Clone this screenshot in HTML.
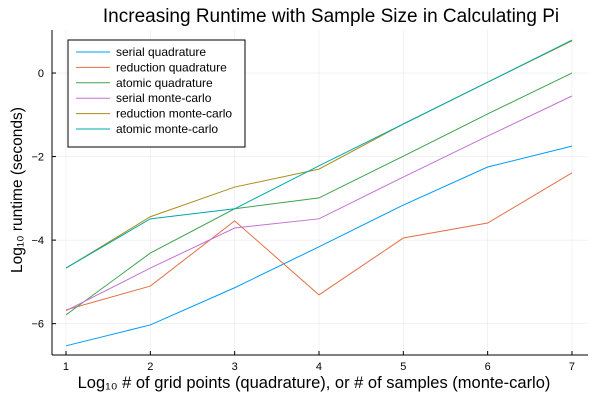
<!DOCTYPE html>
<html><head><meta charset="utf-8"><style>
body{margin:0;background:#fff;}
svg{display:block;font-family:"Liberation Sans","DejaVu Sans",sans-serif;}
</style></head><body>
<svg id="chart" width="600" height="400"></svg>
<script>
const categories=[1,2,3,4,5,6,7];
const seriesNames=["serial quadrature","reduction quadrature","atomic quadrature","serial monte-carlo","reduction monte-carlo","atomic monte-carlo"];
const serialQuad=[-6.53,-6.03,-5.14,-4.16,-3.16,-2.25,-1.75];
const reductionQuad=[-5.67,-5.1,-3.54,-5.31,-3.95,-3.59,-2.39];
const atomicQuad=[-5.79,-4.31,-3.25,-2.99,-1.99,-0.98,0.0];
const serialMC=[-5.69,-4.67,-3.71,-3.49,-2.49,-1.51,-0.55];
const reductionMC=[-4.67,-3.44,-2.73,-2.3,-1.22,-0.22,0.77];
const atomicMC=[-4.67,-3.49,-3.25,-2.22,-1.22,-0.22,0.79];
const xTicks=[1,2,3,4,5,6,7];
const yTicks=[-6,-4,-2,0];
const colors=["#009af9","#e26f46","#3da44d","#c271d2","#ac8d18","#00a9ad"];
const allSeries=[serialQuad,reductionQuad,atomicQuad,serialMC,reductionMC,atomicMC];

const L=52,R=588,T=30,B=355;
const xMin=0.834,xMax=7.19,yMin=-6.75,yMax=1.03;
const sx=v=>L+(v-xMin)/(xMax-xMin)*(R-L);
const sy=v=>B-(v-yMin)/(yMax-yMin)*(B-T);
const svg=document.getElementById('chart');
const NS="http://www.w3.org/2000/svg";
function mk(tag,attrs,parent){const e=document.createElementNS(NS,tag);for(const k in attrs)e.setAttribute(k,attrs[k]);(parent||svg).appendChild(e);return e;}

xTicks.forEach(t=>{const g=mk('line',{x1:sx(t),x2:sx(t),y1:T,y2:B,stroke:'#000','stroke-opacity':0.1,'stroke-width':0.5});

});
yTicks.forEach(t=>{const g=mk('line',{x1:L,x2:R,y1:sy(t),y2:sy(t),stroke:'#000','stroke-opacity':0.1,'stroke-width':0.5});

});
const ax=mk('line',{x1:L,x2:R,y1:B,y2:B,stroke:'#000','stroke-width':1});


const ay=mk('line',{x1:L,x2:L,y1:T,y2:B,stroke:'#000','stroke-width':1});


xTicks.forEach(t=>{
  mk('line',{x1:sx(t),x2:sx(t),y1:B,y2:B-4,stroke:'#000','stroke-width':1});
  const tx=mk('text',{x:sx(t),y:B+15,'text-anchor':'middle','font-size':11});tx.textContent=t;
  
  
});
yTicks.forEach(t=>{
  mk('line',{x1:L,x2:L+4,y1:sy(t),y2:sy(t),stroke:'#000','stroke-width':1});
  const tx=mk('text',{x:L-8,y:sy(t)+4,'text-anchor':'end','font-size':11});tx.textContent=t<0?'\u2212'+(-t):t;
  
  
});
allSeries.forEach((s,i)=>{
  const p=mk('polyline',{points:s.map((v,j)=>sx(categories[j])+','+sy(v)).join(' '),fill:'none',stroke:colors[i],'stroke-width':1});
  
  
});
const ti=mk('text',{x:331,y:22,'text-anchor':'middle','font-size':19});ti.textContent='Increasing Runtime with Sample Size in Calculating Pi';


const xl=mk('text',{x:314,y:388,'text-anchor':'middle','font-size':16.5});xl.textContent='Log\u2081\u2080 # of grid points (quadrature), or # of samples (monte-carlo)';


const yl=mk('text',{x:0,y:0,'text-anchor':'middle','font-size':15.5,transform:'translate(22,190) rotate(-90)'});yl.textContent='Log\u2081\u2080 runtime (seconds)';


const lg=mk('rect',{x:68,y:40,width:177,height:107,fill:'#fff',stroke:'#000','stroke-width':1});


seriesNames.forEach((n,i)=>{
  const y=52+i*15.4;
  const ln=mk('line',{x1:76,x2:110,y1:y,y2:y,stroke:colors[i],'stroke-width':1});
  
  
  const tx=mk('text',{x:116,y:y+4,'font-size':12});tx.textContent=n;
  
  
});
</script>
</body></html>
